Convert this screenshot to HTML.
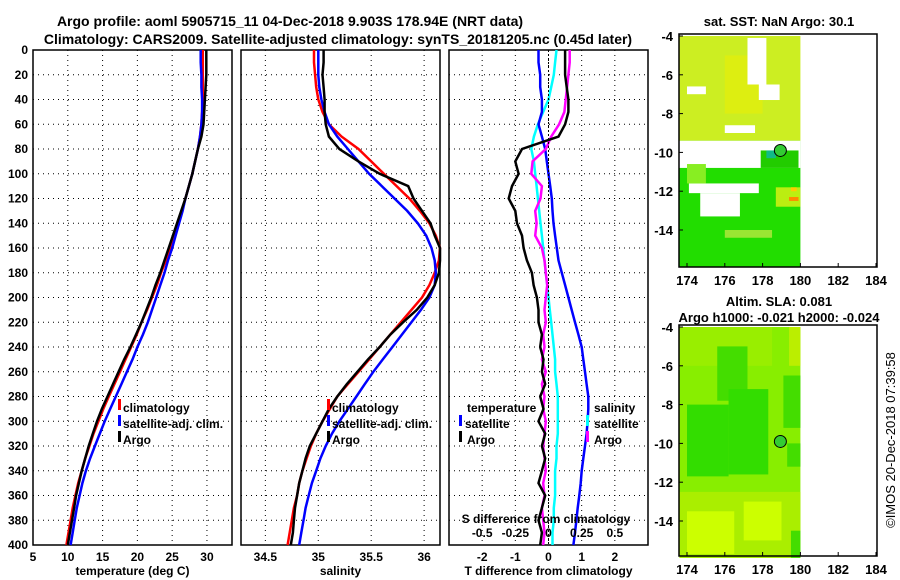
<!DOCTYPE html>
<html><head><meta charset="utf-8"><style>
body{margin:0;background:#fff;}
svg{display:block;font-family:"Liberation Sans",sans-serif;font-weight:bold;}
</style></head><body>
<svg id="c" width="900" height="580" viewBox="0 0 900 580" xmlns="http://www.w3.org/2000/svg">
<text x="290" y="26" font-size="14" text-anchor="middle">Argo profile: aoml 5905715_11 04-Dec-2018 9.903S 178.94E (NRT data)</text>
<text x="338" y="44" font-size="14" text-anchor="middle">Climatology: CARS2009. Satellite-adjusted climatology: synTS_20181205.nc (0.45d later)</text>
<g id="g"></g>
</svg>
<script>
const depths=[0,10,20,30,40,50,60,70,80,90,100,110,120,130,140,150,160,170,180,190,200,210,220,230,240,250,260,270,280,290,300,310,320,330,340,350,360,370,380,390,400];
const tArgo=[29.9,29.9,29.9,29.8,29.7,29.6,29.5,29.2,28.7,28.3,27.9,27.4,26.9,26.3,25.7,25.1,24.5,23.9,23.3,22.6,22.0,21.3,20.6,19.8,19.0,18.1,17.3,16.5,15.7,14.9,14.2,13.6,13.0,12.5,12.0,11.6,11.2,10.9,10.6,10.3,10.0];
const tClim=[29.4,29.4,29.4,29.4,29.4,29.3,29.2,29.0,28.7,28.3,27.9,27.4,26.9,26.4,25.8,25.3,24.7,24.1,23.4,22.8,22.1,21.4,20.6,19.9,19.1,18.3,17.5,16.7,15.9,15.1,14.4,13.7,13.1,12.5,12.0,11.5,11.1,10.7,10.4,10.1,9.8];
const tSat=[29.1,29.1,29.2,29.2,29.3,29.3,29.2,29.0,28.7,28.3,27.9,27.4,26.9,26.5,26.0,25.5,25.0,24.4,23.9,23.3,22.7,22.1,21.5,20.8,20.0,19.3,18.5,17.7,16.9,16.1,15.3,14.6,13.9,13.2,12.6,12.1,11.7,11.3,11.0,10.7,10.4];
const sArgo=[35.05,35.05,35.04,35.05,35.06,35.06,35.07,35.1,35.2,35.38,35.58,35.85,35.9,35.98,36.06,36.1,36.15,36.15,36.14,36.1,36.03,35.93,35.8,35.68,35.58,35.47,35.37,35.27,35.18,35.1,35.04,34.98,34.92,34.88,34.85,34.82,34.8,34.78,34.77,34.76,34.74];
const sClim=[34.96,34.96,34.97,34.98,35.0,35.04,35.1,35.22,35.38,35.5,35.62,35.74,35.86,35.96,36.05,36.11,36.15,36.14,36.1,36.05,35.98,35.88,35.78,35.68,35.58,35.48,35.38,35.28,35.18,35.11,35.04,34.98,34.93,34.89,34.85,34.82,34.8,34.77,34.75,34.73,34.71];
const sSat=[35.0,35.0,35.0,35.01,35.03,35.06,35.1,35.18,35.28,35.38,35.48,35.6,35.72,35.84,35.94,36.02,36.07,36.1,36.11,36.1,36.05,35.97,35.88,35.79,35.7,35.61,35.52,35.44,35.36,35.28,35.2,35.13,35.07,35.02,34.98,34.94,34.91,34.88,34.86,34.84,34.82];
const dTArgo=[0.5,0.5,0.5,0.55,0.6,0.6,0.5,0.3,-0.8,-1.0,-0.9,-1.1,-1.2,-1.0,-0.95,-0.8,-0.75,-0.65,-0.5,-0.45,-0.35,-0.3,-0.3,-0.2,-0.25,-0.15,-0.2,-0.1,-0.25,-0.15,-0.3,-0.1,-0.2,-0.1,-0.2,-0.3,-0.1,-0.2,-0.3,-0.2,-0.25];
const dTSat=[-0.3,-0.3,-0.25,-0.25,-0.2,-0.2,-0.3,-0.2,-0.1,-0.05,0,0.05,0.1,0.12,0.15,0.2,0.25,0.3,0.4,0.5,0.6,0.7,0.8,0.9,1.0,1.05,1.1,1.15,1.2,1.2,1.18,1.15,1.1,1.05,1.0,0.97,0.93,0.88,0.84,0.8,0.75];
const dSSat=[0.06,0.05,0.04,0.02,0.0,-0.04,-0.08,-0.11,-0.13,-0.11,-0.1,-0.09,-0.08,-0.07,-0.06,-0.05,-0.04,-0.03,-0.02,-0.01,0,0.01,0.02,0.03,0.04,0.05,0.05,0.06,0.07,0.07,0.07,0.07,0.06,0.06,0.05,0.05,0.05,0.04,0.04,0.03,0.03];
const dSArgo=[0.16,0.16,0.15,0.14,0.13,0.12,0.08,0.02,-0.02,-0.12,-0.13,-0.05,-0.06,-0.1,-0.09,-0.1,-0.05,-0.03,-0.02,-0.01,-0.02,-0.03,-0.02,-0.04,-0.03,-0.05,-0.02,-0.05,-0.03,-0.04,-0.02,-0.03,-0.04,-0.03,-0.02,-0.04,-0.03,-0.05,-0.04,-0.03,-0.04];
const tTicks=[5,10,15,20,25,30], sTicks=[34.5,35,35.5,36], dTicks=[-2,-1,0,1,2], sdTicks=[-0.5,-0.25,0,0.25,0.5];
const yTicks=[0,20,40,60,80,100,120,140,160,180,200,220,240,260,280,300,320,340,360,380,400];
const lonTicks=[174,176,178,180,182,184], latTicks=[-4,-6,-8,-10,-12,-14];

const NS='http://www.w3.org/2000/svg', G=document.getElementById('g');
function mk(t,a,p){const e=document.createElementNS(NS,t);for(const k in a)e.setAttribute(k,a[k]);(p||G).appendChild(e);return e;}
const Y0=50,Y1=545, yS=d=>Y0+d/400*(Y1-Y0);
function panel(x0,x1,lo,hi,ticks,xlabel,name){
  const xs=v=>x0+(v-lo)/(hi-lo)*(x1-x0);
  const g=mk('g',{});
  
  
  yTicks.forEach(d=>{if(d>0&&d<400){const l=mk('line',{x1:x0,x2:x1,y1:yS(d),y2:yS(d),stroke:'#000','stroke-dasharray':'1 4'},g);}});
  ticks.forEach(v=>{const l=mk('line',{x1:xs(v),x2:xs(v),y1:Y0,y2:Y1,stroke:'#000','stroke-dasharray':'1 4'},g);
    const t=mk('text',{x:xs(v),y:Y1+16,'font-size':12,'text-anchor':'middle'},g);t.textContent=v;
    });
  const xl=mk('text',{x:(x0+x1)/2,y:575,'font-size':12,'text-anchor':'middle'},g);xl.textContent=xlabel;
  
  const r=mk('rect',{x:x0,y:Y0,width:x1-x0,height:Y1-Y0,fill:'none',stroke:'#000','stroke-width':1.5},g);
  
  return {xs,g};
}
function line(p,vals,col,name,xs){
  const pts=vals.map((v,i)=>xs(v).toFixed(1)+','+yS(depths[i]).toFixed(1)).join(' ');
  const l=mk('polyline',{points:pts,fill:'none',stroke:col,'stroke-width':2.5},p.g);
  
}
function txt(x,y,s,anchor,name,size){const t=mk('text',{x,y,'font-size':size||12,'text-anchor':anchor||'start'});t.textContent=s;
  return t;}
function mark(x,y,col){mk('rect',{x:x,y:y-9,width:3,height:11,fill:col});}

// y axis labels
yTicks.forEach(d=>{const t=txt(28,yS(d)+4,d,'end','y-tick-label');});

const p1=panel(33,232,5,33.6,tTicks,'temperature (deg C)','temperature-panel');
line(p1,tClim,'#f00','clim-temperature-line',p1.xs);
line(p1,tSat,'#00f','sat-temperature-line',p1.xs);
line(p1,tArgo,'#000','argo-temperature-line',p1.xs);
const p2=panel(241,440,34.27,36.15,sTicks,'salinity','salinity-panel');
line(p2,sClim,'#f00','clim-salinity-line',p2.xs);
line(p2,sSat,'#00f','sat-salinity-line',p2.xs);
line(p2,sArgo,'#000','argo-salinity-line',p2.xs);
const p3=panel(449,648,-3,3,dTicks,'T difference from climatology','difference-panel');
const xsS=v=>p3.xs(v*4);
mk('line',{x1:p3.xs(0),x2:p3.xs(0),y1:Y0,y2:Y1,stroke:'#000','stroke-dasharray':'2 2'});
line(p3,dSSat,'#0ff','sat-salinity-diff-line',xsS);
line(p3,dTSat,'#00f','sat-temperature-diff-line',p3.xs);
line(p3,dSArgo,'#f0f','argo-salinity-diff-line',xsS);
line(p3,dTArgo,'#000','argo-temperature-diff-line',p3.xs);
sdTicks.forEach(v=>txt(xsS(v),537,v,'middle','s-diff-tick-label'));
txt(546,523,'S difference from climatology','middle','s-diff-axis-title');

// legends
[[p1,118],[p2,327]].forEach(([p,x])=>{
  mark(x,408,'#f00');txt(x+5,412,'climatology','start','legend-climatology');
  mark(x,424,'#00f');txt(x+5,428,'satellite-adj. clim.','start','legend-satellite-adj');
  mark(x,440,'#000');txt(x+5,444,'Argo','start','legend-argo');
});
txt(467,412,'temperature','start','legend-temperature-header');
mark(459,424,'#00f');txt(465,428,'satellite','start','legend-t-satellite');
mark(459,440,'#000');txt(467,444,'Argo','start','legend-t-argo');
txt(594,412,'salinity','start','legend-salinity-header');
mark(586,424,'#0ff');txt(594,428,'satellite','start','legend-s-satellite');
mark(586,440,'#f0f');txt(594,444,'Argo','start','legend-s-argo');

// maps
function map(top,bot,name,cells){
  const L=679,R=877, lonx=v=>687+(v-174)*18.9, laty=v=>top+2+(-4-v)*19.4;
  const g=mk('g',{});
  cells.forEach(c=>{const r=mk('rect',{x:lonx(c[0]),y:laty(c[1]),width:lonx(c[2])-lonx(c[0]),height:laty(c[3])-laty(c[1]),fill:c[4]},g);});
  const ci=mk('circle',{cx:lonx(178.94),cy:laty(-9.9),r:6,fill:'#33cc33',stroke:'#000','stroke-width':1},g);
  
  mk('rect',{x:L,y:top,width:R-L,height:bot-top,fill:'none',stroke:'#000','stroke-width':1.5},g);
  lonTicks.forEach(v=>{mk('line',{x1:lonx(v),x2:lonx(v),y1:bot,y2:bot-4,stroke:'#000'},g);txt(lonx(v),bot+18,v,'middle','lon-tick-label',13);});
  latTicks.forEach(v=>{mk('line',{x1:L,x2:L+4,y1:laty(v),y2:laty(v),stroke:'#000'},g);txt(673,laty(v)+5,v,'end','lat-tick-label',13);});
}
const lo=173.6, sst=[
 [lo,-4,180,-9.4,'#ccee22'],[lo,-9.4,180,-15.9,'#22dd00'],
 [176,-5,178,-8,'#ddee11'],[lo,-9.4,180,-10.8,'#ffffff'],[177.9,-9.9,179.9,-10.8,'#22cc00'],[178.2,-9.9,178.7,-10.3,'#11bb88'],
 [177.2,-4.1,178.2,-6.5,'#ffffff'],[177.8,-6.5,178.9,-7.3,'#ffffff'],[174,-6.6,175,-7,'#ffffff'],[176,-8.6,177.6,-9.0,'#ffffff'],
 [174.1,-11.6,177.8,-12.1,'#ffffff'],[174.7,-12.1,176.8,-13.3,'#ffffff'],[174,-10.6,175,-11.6,'#88ee22'],
 [176,-14.0,178.5,-14.4,'#99e633'],[178.7,-11.8,180,-12.8,'#bbee11'],[179.4,-12.3,179.9,-12.5,'#ff8800'],[179.5,-11.8,179.8,-12.0,'#ffcc00']
];
map(34,267,'sst-map',sst);
const sla=[
 [lo,-4,180,-15.9,'#88ee00'],[lo,-4,178.5,-6,'#99ee00'],[175.6,-5,177.2,-7.8,'#44dd00'],[174,-8,176.2,-11.7,'#33dd00'],
 [176.2,-7.2,178.3,-11.6,'#33dd00'],[179.1,-6.5,180,-9.2,'#44dd00'],[179.3,-10,180,-11.2,'#44dd00'],
 [lo,-12.5,180,-15.9,'#aaee00'],[174,-13.5,176.5,-15.7,'#ccff00'],[177,-13,179,-15,'#ccff00'],[179.4,-4,180,-6,'#bbee00'],[179.5,-14.5,180,-15.9,'#44dd00']
];
map(325,556,'sla-map',sla);
txt(779,26,'sat. SST: NaN Argo: 30.1','middle','sst-map-title',13);
txt(779,306,'Altim. SLA: 0.081','middle','sla-map-title',13);
txt(779,322,'Argo h1000: -0.021 h2000: -0.024','middle','sla-map-subtitle',13);
const im=txt(0,0,'©IMOS 20-Dec-2018 07:39:58','middle','imos-credit',13);
im.setAttribute('font-weight','normal');im.setAttribute('transform','translate(895,440) rotate(-90)');
</script>
</body></html>
